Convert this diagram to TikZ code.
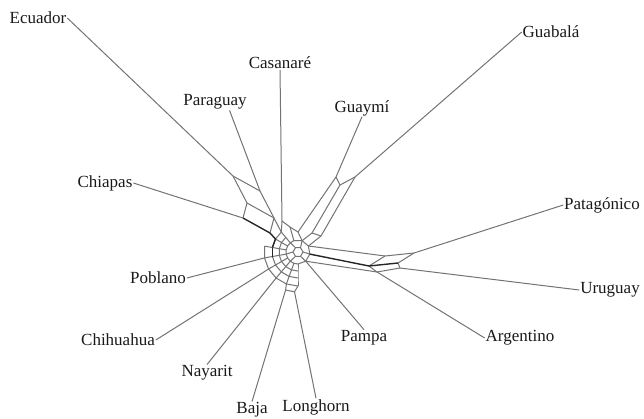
\documentclass[tikz,border=0pt]{standalone}
\usepackage{fontspec}
\setmainfont{Liberation Serif}
\usepackage{tikz}
\usetikzlibrary{positioning}

\begin{document}
\begin{tikzpicture}[x=1pt,y=-1pt,every node/.style={inner sep=1,outer sep=0,font=\fontsize{17}{20}\selectfont,text=black!90},
  net/.style={draw=black!55,line width=1pt},
  heavy/.style={draw=black!85,line width=1.4pt}]

\useasboundingbox (0,0) rectangle (644,418);

% breeds
\node (ecuador) at (38,18) {Ecuador};
\node (casanare) at (280,63) {Casanaré};
\node (paraguay) at (215,102) {Paraguay};
\node (chiapas) at (105,183) {Chiapas};
\node (guaymi) at (362,108) {Guaymí};
\node (guabala) at (551,32) {Guabalá};
\node (patagonico) at (602,205) {Patagónico};
\node (uruguay) at (610,290) {Uruguay};
\node (argentino) at (520,338) {Argentino};
\node (pampa) at (364,338) {Pampa};
\node (poblano) at (158,278) {Poblano};
\node (chihuahua) at (118,340) {Chihuahua};
\node (nayarit) at (207,373) {Nayarit};
\node (baja) at (252,410) {Baja};
\node (longhorn) at (316,407) {Longhorn};

% splits, upper left
\coordinate (e1) at (233,176);
\coordinate (pa1) at (260,191);
\coordinate (e2) at (247,203);
\coordinate (pa2) at (274,218);
\coordinate (ch0) at (243,218);
\coordinate (cq) at (270,233);
\coordinate (cs) at (282,221);
\coordinate (ck) at (290,227);
% splits, upper right
\coordinate (g1) at (336,177);
\coordinate (gv) at (340,185);
\coordinate (g2) at (355,177);
\coordinate (gl) at (298,232);
\coordinate (gm) at (312,233);
\coordinate (gr) at (321,236);
% splits, right
\coordinate (t1) at (385,256);
\coordinate (t0) at (414,253);
\coordinate (t2) at (369,266);
\coordinate (t3) at (398,263);
\coordinate (t4) at (377,272);
\coordinate (t5) at (400,268);
% bottom
\coordinate (lo) at (294.5,291.8);
\coordinate (ba) at (285.6,290);

% core, centre
\coordinate (q0) at (303,252);
\coordinate (q1) at (300.5,256.3);
\coordinate (q2) at (295.5,256.3);
\coordinate (q3) at (293,252);
\coordinate (q4) at (295.5,247.7);
\coordinate (q5) at (300.5,247.7);
% core, inner ring
\coordinate (ia) at (298,264);
\coordinate (ib) at (293.9,263.3);
\coordinate (ic) at (290.3,261.2);
\coordinate (id) at (287.6,258);
\coordinate (ie) at (286.2,254.1);
\coordinate (if) at (286.2,249.9);
\coordinate (ig) at (287.6,246);
\coordinate (ih) at (290.3,242.8);
\coordinate (ii) at (293.9,240.7);
\coordinate (ij) at (302.1,240.7);
\coordinate (ik) at (308.4,246);
\coordinate (il) at (309.8,254.1);
\coordinate (im) at (305.7,261.2);
% core, middle ring
\coordinate (ma) at (298,271);
\coordinate (mb) at (291.5,269.9);
\coordinate (mc) at (285.8,266.6);
\coordinate (md) at (281.5,261.5);
\coordinate (me) at (279.3,255.3);
\coordinate (mf) at (279.3,248.7);
\coordinate (mg) at (281.5,242.5);
\coordinate (mh) at (285.8,237.4);
% core, outer ring
\coordinate (oa) at (298,278);
\coordinate (ob) at (289.1,276.4);
\coordinate (oc) at (281.3,271.9);
\coordinate (od) at (275.5,265);
\coordinate (oe) at (272.4,256.5);
\coordinate (of) at (272.4,247.5);
\coordinate (og) at (275.5,239);
\coordinate (oh) at (281.3,232.1);
% core, last ring
\coordinate (xa) at (298,286);
\coordinate (xb) at (286.4,284);
\coordinate (xc) at (276.1,278);
\coordinate (xd) at (268.6,269);
\coordinate (xe) at (264.5,257.9);
\coordinate (xf) at (264.5,246.1);

\draw[net] (q0) -- (q1) -- (q2) -- (q3) -- (q4) -- (q5) -- cycle;
\draw[net] (ia) -- (ib) -- (ic) -- (id) -- (ie) -- (if) -- (ig) -- (ih) -- (ii) -- (ij) -- (ik) -- (il) -- (im) -- cycle;
\draw[net] (ma) -- (mb) -- (mc) -- (md) -- (me) -- (mf) -- (mg) -- (mh);
\draw[net] (oa) -- (ob) -- (oc) -- (od) -- (oe);
\draw[net] (of) -- (og) -- (oh);
\draw[net] (xa) -- (xb) -- (xc) -- (xd) -- (xe) -- (xf);
\draw[net] (ia) -- (ma) -- (oa) -- (xa);
\draw[net] (ib) -- (mb) -- (ob) -- (xb);
\draw[net] (ic) -- (mc) -- (oc) -- (xc);
\draw[net] (id) -- (md) -- (od) -- (xd);
\draw[net] (ie) -- (me) -- (oe) -- (xe);
\draw[net] (if) -- (mf) -- (of) -- (xf);
\draw[net] (ig) -- (mg) -- (og);
\draw[net] (ih) -- (mh) -- (oh);

\path[net]
        (q0) edge (il)
        (q1) edge (im)
        (q2) edge (ic)
        (q3) edge (ie)
        (q4) edge (ih)
        (q5) edge (ij)
        (e1) edge (pa1)
        (e1) edge (e2)
        (pa1) edge (pa2)
        (e2) edge (pa2)
        (ch0) edge (e2)
        (pa2) edge (cq)
        (pa2) edge (oh)
        (cs) edge (oh)
        (cs) edge (ck)
        (ck) edge (ii)
        (ck) edge (gl)
        (g1) edge (gv)
        (gv) edge (g2)
        (g1) edge (gl)
        (gv) edge (gm)
        (g2) edge (gr)
        (gm) edge (gr)
        (gl) edge (ij)
        (gm) edge (ij)
        (gr) edge (ik)
        (ik) edge (t1)
        (t1) edge (t0)
        (t1) edge (t2)
        (t0) edge (t3)
        (im) edge (t4)
        (t2) edge (t4)
        (t4) edge (t5)
        (t3) edge (t5)
        (lo) edge (xa)
        (ba) edge (xb)
        (lo) edge (ba);

\path[heavy]
        (ch0) edge (cq)
        (cq) edge (og)
        (og) edge (of)
        (of) edge (oe)
        (il) edge (t2)
        (t2) edge (t3);

\path[net]
        (ecuador.east) edge (e1)
        (paraguay.-30) edge (pa1)
        (casanare.south) edge (cs)
        (chiapas.east) edge (ch0)
        (guaymi.south) edge (g1)
        (guabala.west) edge (g2)
        (patagonico.west) edge (t0)
        (uruguay.west) edge (t5)
        (argentino.west) edge (t4)
        (pampa.north) edge (im)
        (longhorn.north) edge (lo)
        (baja.north) edge (ba)
        (nayarit.north) edge (xc)
        (chihuahua.east) edge (xd)
        (poblano.east) edge (xe);
\end{tikzpicture}
\end{document}
